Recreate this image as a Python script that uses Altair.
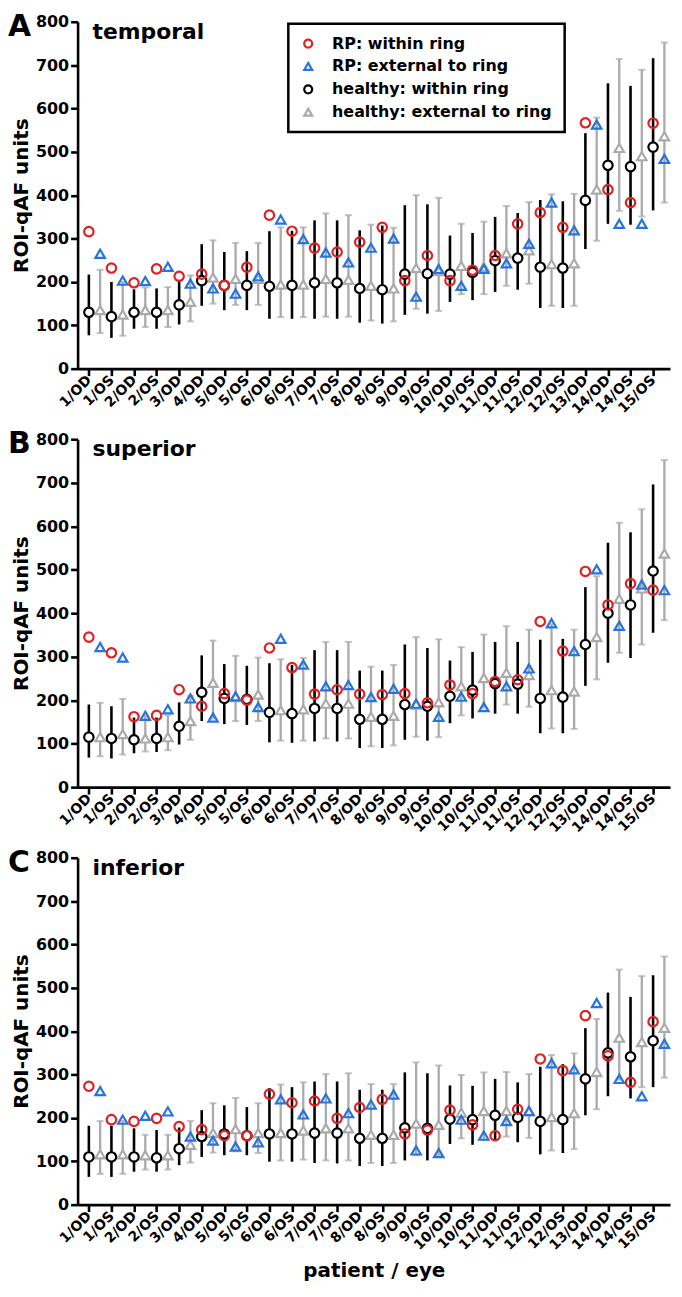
import json
import altair as alt
import pandas as pd

labels = ["1/OD", "1/OS", "2/OD", "2/OS", "3/OD", "4/OD", "5/OD", "5/OS", "6/OD", "6/OS",
          "7/OD", "7/OS", "8/OD", "8/OS", "9/OD", "9/OS", "10/OD", "10/OS", "11/OD", "11/OS",
          "12/OD", "12/OS", "13/OD", "14/OD", "14/OS", "15/OS"]

series_names = ["RP: within ring", "RP: external to ring",
                "healthy: within ring", "healthy: external to ring"]
series_colors = ["#e31f1f", "#2674dc", "#000000", "#aaaaaa"]
series_shapes = ["circle", "triangle-up", "circle", "triangle-up"]

panel_letters = ["A", "B", "C"]
panel_names = ["temporal", "superior", "inferior"]

# ---- temporal ----
t_rp_in = [316, 232, 198, 230, 213, 218, 192, 234, 354, 317, 278, 269, 292, 326, 203, 261, 203, 227, 261, 334, 360, 326, 567, 413, 383, 566]
t_rp_ext = [265, 203, 202, 235, 196, 185, 173, 213, 344, 299, 268, 245, 279, 300, 166, 230, 191, 230, 243, 288, 383, 319, 563, 334, 334, 484]
t_h_in = [130, 120, 130, 130, 147, 203, 192, 192, 190, 192, 198, 198, 185, 182, 218, 219, 218, 222, 249, 255, 234, 232, 388, 469, 466, 511]
t_h_in_lo = [77, 71, 92, 92, 102, 145, 135, 135, 115, 115, 115, 115, 106, 104, 124, 127, 154, 158, 177, 182, 140, 140, 276, 334, 332, 365]
t_h_in_hi = [217, 200, 183, 185, 205, 287, 269, 271, 317, 318, 342, 342, 319, 330, 377, 379, 307, 313, 350, 359, 389, 386, 543, 658, 652, 716]
t_h_ext = [135, 125, 135, 135, 154, 210, 207, 207, 194, 194, 207, 205, 191, 185, 232, 225, 237, 235, 266, 273, 241, 243, 413, 509, 490, 536]
t_h_ext_lo = [82, 76, 96, 96, 109, 150, 147, 147, 119, 119, 120, 120, 111, 109, 138, 133, 172, 172, 191, 196, 145, 145, 295, 364, 351, 383]
t_h_ext_hi = [228, 200, 187, 188, 215, 296, 290, 290, 326, 326, 358, 354, 332, 325, 400, 394, 334, 339, 375, 384, 402, 403, 579, 714, 689, 752]

# ---- superior ----
s_rp_in = [345, 309, 162, 165, 224, 186, 215, 200, 320, 275, 214, 224, 214, 213, 215, 194, 235, 215, 243, 247, 381, 313, 496, 419, 468, 453]
s_rp_ext = [322, 298, 164, 179, 204, 160, 209, 184, 341, 282, 232, 235, 207, 226, 192, 162, 208, 184, 232, 273, 377, 313, 501, 371, 466, 453]
s_h_in = [115, 112, 109, 112, 140, 218, 204, 202, 172, 169, 181, 181, 156, 156, 190, 186, 209, 223, 238, 237, 204, 207, 328, 400, 419, 497]
s_h_in_lo = [68, 66, 78, 81, 98, 152, 145, 143, 103, 102, 105, 105, 90, 90, 109, 107, 147, 158, 169, 169, 124, 124, 233, 286, 297, 355]
s_h_in_hi = [190, 186, 160, 160, 195, 303, 283, 279, 285, 281, 315, 315, 268, 268, 328, 320, 291, 311, 334, 334, 339, 341, 460, 562, 586, 696]
s_h_ext = [115, 122, 112, 115, 152, 240, 207, 213, 177, 179, 192, 192, 162, 164, 190, 195, 232, 251, 263, 258, 223, 220, 345, 433, 457, 537]
s_h_ext_lo = [71, 75, 82, 85, 109, 158, 152, 152, 107, 107, 112, 112, 94, 96, 116, 115, 165, 183, 190, 185, 135, 134, 248, 309, 328, 384]
s_h_ext_hi = [194, 203, 164, 165, 210, 337, 302, 298, 294, 297, 334, 334, 277, 281, 345, 340, 322, 351, 370, 362, 375, 362, 485, 608, 639, 752]

# ---- inferior ----
i_rp_in = [273, 196, 192, 199, 180, 173, 159, 159, 255, 235, 239, 199, 224, 243, 163, 172, 218, 184, 159, 220, 336, 309, 436, 343, 282, 422]
i_rp_ext = [262, 196, 205, 215, 157, 148, 134, 144, 243, 208, 245, 211, 231, 254, 125, 119, 196, 159, 193, 216, 326, 312, 465, 290, 250, 371]
i_h_in = [110, 110, 110, 108, 129, 157, 163, 159, 163, 163, 165, 165, 153, 153, 177, 176, 197, 196, 206, 201, 192, 196, 290, 350, 341, 378]
i_h_in_lo = [64, 64, 76, 76, 91, 110, 114, 114, 99, 99, 96, 95, 89, 89, 102, 102, 140, 138, 149, 144, 116, 119, 206, 250, 245, 271]
i_h_in_hi = [182, 182, 176, 172, 178, 218, 229, 225, 269, 271, 284, 284, 265, 265, 305, 303, 275, 274, 290, 282, 318, 324, 407, 489, 479, 529]
i_h_ext = [116, 116, 114, 114, 138, 165, 174, 165, 165, 171, 176, 176, 161, 161, 187, 184, 212, 216, 216, 216, 202, 211, 306, 385, 375, 408]
i_h_ext_lo = [71, 71, 81, 81, 97, 120, 123, 119, 102, 104, 102, 102, 96, 96, 114, 114, 153, 149, 157, 154, 125, 128, 220, 288, 271, 293]
i_h_ext_hi = [193, 193, 161, 161, 193, 234, 246, 234, 277, 282, 301, 303, 278, 278, 328, 321, 299, 305, 306, 301, 345, 349, 428, 542, 527, 572]

panel_data = [
    (t_rp_in, t_rp_ext, t_h_in, t_h_in_lo, t_h_in_hi, t_h_ext, t_h_ext_lo, t_h_ext_hi),
    (s_rp_in, s_rp_ext, s_h_in, s_h_in_lo, s_h_in_hi, s_h_ext, s_h_ext_lo, s_h_ext_hi),
    (i_rp_in, i_rp_ext, i_h_in, i_h_in_lo, i_h_in_hi, i_h_ext, i_h_ext_lo, i_h_ext_hi),
]
panel_heights = [349, 350, 349]

FONT = "DejaVu Sans"
label_expr = json.dumps(labels) + "[datum.value - 1]"


def make_df(arrs):
    rp_in, rp_ext, h_in, h_in_lo, h_in_hi, h_ext, h_ext_lo, h_ext_hi = arrs
    rows = []
    for i in range(len(labels)):
        rows.append(dict(cat=i + 1, grp=1, series=series_names[3], y=h_ext[i], lo=h_ext_lo[i], hi=h_ext_hi[i], kind="h"))
    for i in range(len(labels)):
        rows.append(dict(cat=i + 1, grp=0, series=series_names[2], y=h_in[i], lo=h_in_lo[i], hi=h_in_hi[i], kind="h"))
    for i in range(len(labels)):
        rows.append(dict(cat=i + 1, grp=1, series=series_names[1], y=rp_ext[i], lo=None, hi=None, kind="rp"))
    for i in range(len(labels)):
        rows.append(dict(cat=i + 1, grp=0, series=series_names[0], y=rp_in[i], lo=None, hi=None, kind="rp"))
    df = pd.DataFrame(rows)
    df["pos"] = df["cat"] + 0.5 * df["grp"]
    return df


def panel(k):
    df = make_df(panel_data[k])
    h = panel_heights[k]
    show_legend = (k == 0)
    xtitle = "patient / eye" if k == 2 else None

    xscale = alt.Scale(domain=[0.5, 26.75], nice=False, zero=False)
    yscale = alt.Scale(domain=[0, 800], nice=False)
    xax_kwargs = dict(values=list(range(1, 27)), labelExpr=label_expr, labelAngle=315,
                      labelAlign="right", labelBaseline="middle", labelOverlap=False,
                      labelFlush=False, labelFontSize=14, labelPadding=2, tickSize=7,
                      grid=False, titleFontSize=20, titlePadding=8)
    if xtitle:
        xax = alt.Axis(title=xtitle, **xax_kwargs)
    else:
        xax = alt.Axis(title=None, **xax_kwargs)
    yax = alt.Axis(values=list(range(0, 801, 100)), title="ROI-qAF units", grid=False,
                   labelFontSize=16, titleFontSize=20, tickSize=7, labelPadding=2,
                   titlePadding=4, labelFlush=False)
    X = alt.X("pos:Q", scale=xscale, axis=xax)

    if show_legend:
        leg = alt.Legend(orient="none", legendX=212, legendY=2, title=None, direction="vertical")
    else:
        leg = None
    color = alt.Color("series:N", scale=alt.Scale(domain=series_names, range=series_colors), legend=leg)
    shape = alt.Shape("series:N", scale=alt.Scale(domain=series_names, range=series_shapes), legend=leg)

    base = alt.Chart(df)

    gray_rules = base.transform_filter(alt.datum.series == series_names[3]).mark_rule(
        color=series_colors[3], strokeWidth=2.3).encode(
        x=X, y=alt.Y("lo:Q", scale=yscale, axis=yax), y2="hi:Q")
    gray_caps = base.transform_filter(alt.datum.series == series_names[3]).transform_fold(
        ["lo", "hi"], as_=["which", "capv"]).mark_tick(
        color=series_colors[3], orient="horizontal", size=7, thickness=2).encode(
        x=X, y=alt.Y("capv:Q", scale=yscale, axis=yax))
    black_rules = base.transform_filter(alt.datum.series == series_names[2]).mark_rule(
        color="black", strokeWidth=2.6).encode(
        x=X, y=alt.Y("lo:Q", scale=yscale, axis=yax), y2="hi:Q")
    healthy_pts = base.transform_filter(alt.datum.kind == "h").mark_point(
        filled=False, fill="white", size=90, strokeWidth=2.2, opacity=1).encode(
        x=X, y=alt.Y("y:Q", scale=yscale, axis=yax), color=color, shape=shape)
    rp_pts = base.transform_filter(alt.datum.kind == "rp").mark_point(
        filled=False, size=90, strokeWidth=2.2, opacity=1).encode(
        x=X, y=alt.Y("y:Q", scale=yscale, axis=yax), color=color, shape=shape)

    name_txt = alt.Chart(pd.DataFrame({"t": [panel_names[k]]})).mark_text(
        align="left", baseline="alphabetic", fontSize=22, fontWeight="bold", font=FONT,
        color="black").encode(text="t:N", x=alt.value(15), y=alt.value(17))
    letter_txt = alt.Chart(pd.DataFrame({"t": [panel_letters[k]]})).mark_text(
        align="left", baseline="top", fontSize=30, fontWeight="bold", font=FONT,
        color="black").encode(text="t:N", x=alt.value(-70), y=alt.value(-10))

    layers = [gray_rules, gray_caps, black_rules, healthy_pts, rp_pts, name_txt, letter_txt]
    return alt.layer(*layers).properties(width=596, height=h)


chart = alt.vconcat(panel(0), panel(1), panel(2), spacing=13).resolve_scale(
    color="independent", shape="independent").properties(
    padding={"left": 0, "top": 0, "right": 0, "bottom": 0}
).configure_view(stroke=None).configure_axis(
    labelFont=FONT, titleFont=FONT, labelFontWeight="bold", titleFontWeight="bold",
    labelColor="black", titleColor="black", domainColor="black", tickColor="black",
    domainWidth=2.6, tickWidth=2.6
).configure_legend(
    labelFont=FONT, labelFontSize=16, labelFontWeight="bold", labelColor="black",
    strokeColor="black", strokeWidth=2.5, fillColor="white", padding=12, labelLimit=0,
    rowPadding=6, labelOffset=16, symbolSize=65, symbolStrokeWidth=2.2
)

chart.save("out.html", embed_options={"renderer": "svg", "actions": False})
